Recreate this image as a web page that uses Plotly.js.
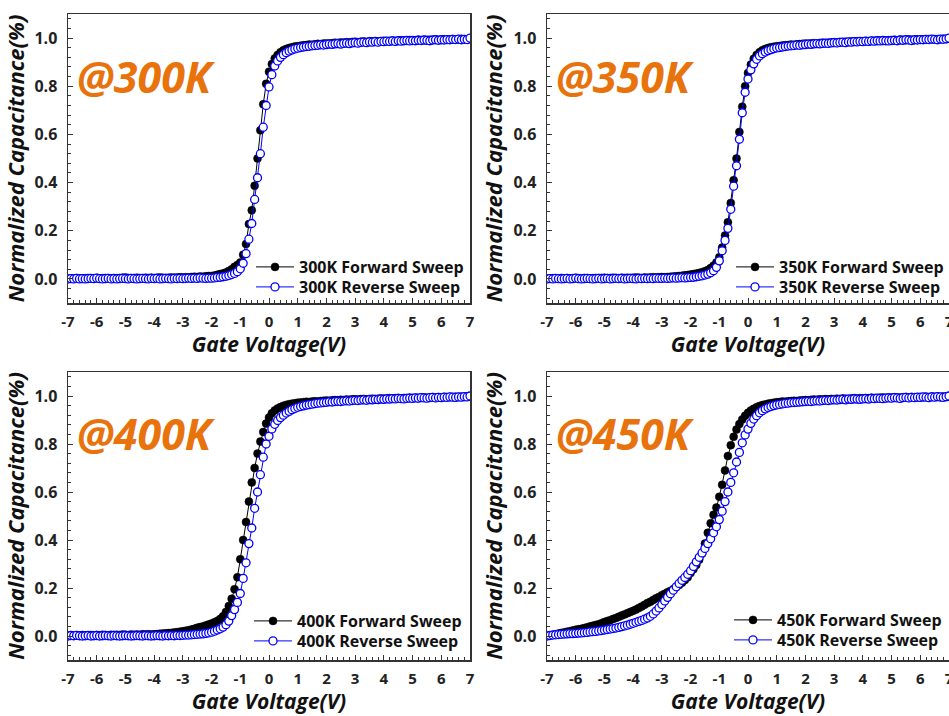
<!DOCTYPE html>
<html><head><meta charset="utf-8">
<script src="https://cdn.plot.ly/plotly-3.0.1.min.js"></script>
<style>html,body{margin:0;padding:0;background:#fff}#chart{width:949px;height:716px}</style>
</head><body><div id="chart"></div>
<script>
// Gate voltage sweep (V)
const gateVoltage = [
-7.0,-6.9,-6.8,-6.7,-6.6,-6.5,-6.4,-6.3,-6.2,-6.1,
-6.0,-5.9,-5.8,-5.7,-5.6,-5.5,-5.4,-5.3,-5.2,-5.1,
-5.0,-4.9,-4.8,-4.7,-4.6,-4.5,-4.4,-4.3,-4.2,-4.1,
-4.0,-3.9,-3.8,-3.7,-3.6,-3.5,-3.4,-3.3,-3.2,-3.1,
-3.0,-2.9,-2.8,-2.7,-2.6,-2.5,-2.4,-2.3,-2.2,-2.1,
-2.0,-1.9,-1.8,-1.7,-1.6,-1.5,-1.4,-1.3,-1.2,-1.1,
-1.0,-0.9,-0.8,-0.7,-0.6,-0.5,-0.4,-0.3,-0.2,-0.1,
0.0,0.1,0.2,0.3,0.4,0.5,0.6,0.7,0.8,0.9,
1.0,1.1,1.2,1.3,1.4,1.5,1.6,1.7,1.8,1.9,
2.0,2.1,2.2,2.3,2.4,2.5,2.6,2.7,2.8,2.9,
3.0,3.1,3.2,3.3,3.4,3.5,3.6,3.7,3.8,3.9,
4.0,4.1,4.2,4.3,4.4,4.5,4.6,4.7,4.8,4.9,
5.0,5.1,5.2,5.3,5.4,5.5,5.6,5.7,5.8,5.9,
6.0,6.1,6.2,6.3,6.4,6.5,6.6,6.7,6.8,6.9,
7.0];

// 300K
const fwd300 = [
0.000,0.002,0.001,0.003,0.002,0.001,0.003,0.004,0.002,0.003,
0.004,0.002,0.003,0.004,0.003,0.002,0.004,0.003,0.004,0.005,
0.006,0.004,0.003,0.004,0.005,0.004,0.003,0.005,0.004,0.005,
0.004,0.005,0.006,0.005,0.004,0.005,0.006,0.005,0.006,0.007,
0.006,0.007,0.006,0.008,0.009,0.008,0.010,0.009,0.011,0.012,
0.012,0.014,0.017,0.020,0.023,0.027,0.033,0.040,0.050,0.058,
0.068,0.100,0.145,0.228,0.285,0.387,0.500,0.617,0.725,0.810,
0.860,0.892,0.915,0.930,0.941,0.949,0.955,0.959,0.962,0.965,
0.966,0.968,0.970,0.971,0.973,0.972,0.974,0.976,0.975,0.977,
0.978,0.977,0.979,0.981,0.980,0.982,0.981,0.983,0.982,0.984,
0.985,0.983,0.985,0.986,0.984,0.987,0.986,0.988,0.986,0.987,
0.989,0.987,0.988,0.990,0.988,0.989,0.991,0.989,0.990,0.992,
0.990,0.991,0.993,0.991,0.992,0.990,0.993,0.992,0.994,0.992,
0.993,0.995,0.993,0.994,0.996,0.994,0.995,0.997,0.995,0.994,
0.996];
const rev300 = [
0.000,0.001,0.000,0.002,0.000,0.001,0.000,0.001,0.002,0.001,
0.003,0.001,0.000,0.001,0.002,0.000,0.001,0.000,0.001,0.002,
0.001,0.000,0.002,0.001,0.000,0.001,0.002,0.001,0.000,0.002,
0.001,0.002,0.000,0.001,0.002,0.001,0.000,0.002,0.001,0.002,
0.001,0.002,0.003,0.002,0.003,0.002,0.004,0.003,0.002,0.003,
0.003,0.004,0.006,0.007,0.009,0.011,0.014,0.018,0.023,0.030,
0.042,0.065,0.105,0.165,0.230,0.330,0.420,0.520,0.630,0.720,
0.797,0.848,0.884,0.905,0.920,0.931,0.939,0.946,0.951,0.955,
0.958,0.961,0.963,0.965,0.966,0.968,0.969,0.970,0.972,0.971,
0.973,0.975,0.974,0.976,0.977,0.975,0.978,0.979,0.977,0.980,
0.981,0.979,0.982,0.983,0.981,0.984,0.983,0.985,0.983,0.986,
0.985,0.987,0.986,0.988,0.986,0.989,0.987,0.989,0.990,0.988,
0.990,0.989,0.991,0.990,0.992,0.991,0.989,0.992,0.993,0.991,
0.993,0.992,0.994,0.993,0.995,0.994,0.996,0.993,0.995,0.994,
1.000];

// 350K
const fwd350 = [
0.000,0.002,0.003,0.001,0.002,0.004,0.002,0.003,0.001,0.003,
0.004,0.003,0.002,0.004,0.003,0.002,0.003,0.004,0.003,0.004,
0.005,0.003,0.004,0.005,0.004,0.003,0.005,0.004,0.005,0.004,
0.005,0.006,0.005,0.004,0.006,0.005,0.006,0.007,0.006,0.007,
0.008,0.007,0.008,0.009,0.010,0.011,0.012,0.013,0.015,0.016,
0.018,0.020,0.022,0.025,0.028,0.032,0.037,0.045,0.055,0.068,
0.090,0.130,0.180,0.235,0.315,0.410,0.500,0.610,0.715,0.800,
0.855,0.890,0.914,0.930,0.941,0.949,0.955,0.959,0.962,0.964,
0.966,0.967,0.969,0.970,0.971,0.973,0.972,0.974,0.975,0.976,
0.977,0.976,0.978,0.979,0.978,0.980,0.981,0.979,0.981,0.982,
0.983,0.982,0.984,0.983,0.985,0.984,0.986,0.985,0.987,0.986,
0.987,0.988,0.986,0.989,0.988,0.990,0.989,0.988,0.990,0.991,
0.990,0.992,0.991,0.993,0.991,0.992,0.994,0.993,0.992,0.994,
0.993,0.995,0.994,0.996,0.995,0.994,0.996,0.995,0.997,0.996,
0.997];
const rev350 = [
0.000,0.001,0.000,0.002,0.001,0.000,0.001,0.002,0.000,0.001,
0.003,0.001,0.000,0.001,0.002,0.001,0.000,0.001,0.002,0.000,
0.001,0.002,0.000,0.001,0.002,0.001,0.002,0.000,0.001,0.002,
0.001,0.000,0.002,0.001,0.002,0.001,0.002,0.001,0.003,0.002,
0.002,0.003,0.002,0.003,0.004,0.003,0.004,0.005,0.004,0.005,
0.006,0.007,0.009,0.011,0.013,0.016,0.020,0.026,0.034,0.048,
0.075,0.117,0.160,0.210,0.289,0.385,0.470,0.580,0.690,0.775,
0.830,0.868,0.893,0.912,0.926,0.935,0.942,0.948,0.952,0.956,
0.959,0.961,0.963,0.965,0.967,0.968,0.969,0.971,0.970,0.972,
0.973,0.975,0.974,0.976,0.977,0.976,0.978,0.979,0.978,0.980,
0.981,0.980,0.982,0.983,0.981,0.984,0.983,0.985,0.984,0.986,
0.985,0.987,0.986,0.988,0.987,0.989,0.988,0.990,0.989,0.988,
0.990,0.991,0.989,0.992,0.991,0.993,0.992,0.990,0.993,0.992,
0.994,0.993,0.995,0.994,0.996,0.995,0.993,0.996,0.995,0.997,
1.000];

// 400K
const fwd400 = [
0.000,0.002,0.001,0.003,0.002,0.004,0.003,0.002,0.004,0.003,
0.004,0.003,0.005,0.004,0.003,0.005,0.004,0.005,0.004,0.006,
0.005,0.004,0.006,0.005,0.006,0.005,0.007,0.006,0.007,0.006,
0.007,0.008,0.009,0.010,0.011,0.012,0.013,0.015,0.016,0.018,
0.020,0.022,0.024,0.027,0.030,0.034,0.037,0.040,0.044,0.048,
0.052,0.057,0.063,0.071,0.082,0.100,0.125,0.155,0.195,0.245,
0.320,0.400,0.475,0.560,0.640,0.700,0.760,0.810,0.850,0.885,
0.910,0.928,0.940,0.948,0.954,0.959,0.963,0.966,0.968,0.970,
0.972,0.973,0.974,0.976,0.975,0.977,0.978,0.977,0.979,0.980,
0.981,0.980,0.982,0.983,0.982,0.984,0.983,0.985,0.984,0.986,
0.986,0.985,0.987,0.988,0.986,0.988,0.989,0.987,0.989,0.990,
0.989,0.990,0.991,0.989,0.991,0.992,0.990,0.992,0.991,0.993,
0.992,0.993,0.991,0.993,0.994,0.992,0.994,0.995,0.993,0.995,
0.994,0.996,0.995,0.996,0.995,0.997,0.996,0.997,0.996,0.998,
0.998];
const rev400 = [
0.000,0.002,0.001,0.003,0.001,0.000,0.001,0.002,0.000,0.001,
0.002,0.000,0.001,0.002,0.001,0.000,0.002,0.001,0.000,0.001,
0.002,0.001,0.000,0.001,0.002,0.001,0.000,0.002,0.001,0.000,
0.001,0.002,0.001,0.000,0.002,0.001,0.002,0.001,0.003,0.002,
0.003,0.004,0.004,0.005,0.006,0.007,0.008,0.009,0.011,0.013,
0.016,0.020,0.025,0.030,0.037,0.047,0.062,0.085,0.110,0.140,
0.177,0.240,0.305,0.385,0.450,0.532,0.600,0.672,0.745,0.800,
0.832,0.863,0.882,0.898,0.910,0.920,0.929,0.936,0.943,0.948,
0.953,0.956,0.959,0.962,0.964,0.966,0.968,0.970,0.971,0.973,
0.974,0.976,0.975,0.977,0.978,0.977,0.979,0.980,0.979,0.981,
0.982,0.981,0.983,0.984,0.982,0.985,0.984,0.986,0.985,0.987,
0.986,0.988,0.987,0.989,0.988,0.990,0.989,0.988,0.990,0.991,
0.990,0.992,0.991,0.993,0.992,0.991,0.993,0.994,0.992,0.994,
0.993,0.995,0.994,0.996,0.995,0.994,0.996,0.995,0.997,0.996,
1.000];

// 450K
const fwd450 = [
0.000,0.002,0.005,0.007,0.010,0.013,0.015,0.018,0.020,0.023,
0.026,0.028,0.030,0.033,0.036,0.040,0.043,0.046,0.049,0.053,
0.058,0.062,0.066,0.071,0.075,0.080,0.085,0.090,0.095,0.100,
0.105,0.110,0.117,0.123,0.130,0.137,0.143,0.150,0.157,0.163,
0.170,0.176,0.182,0.188,0.195,0.203,0.212,0.222,0.233,0.245,
0.262,0.278,0.296,0.318,0.343,0.385,0.430,0.470,0.505,0.535,
0.580,0.630,0.690,0.750,0.795,0.830,0.860,0.883,0.902,0.918,
0.930,0.940,0.947,0.953,0.958,0.962,0.965,0.968,0.970,0.972,
0.974,0.975,0.977,0.976,0.978,0.979,0.980,0.979,0.981,0.982,
0.983,0.982,0.984,0.985,0.984,0.986,0.985,0.987,0.986,0.988,
0.987,0.989,0.988,0.990,0.989,0.988,0.990,0.991,0.989,0.991,
0.990,0.992,0.991,0.993,0.992,0.991,0.993,0.994,0.992,0.994,
0.993,0.995,0.994,0.993,0.995,0.996,0.994,0.996,0.995,0.994,
0.996,0.995,0.997,0.996,0.998,0.996,0.997,0.995,0.998,0.997,
0.999];
const rev450 = [
0.000,0.002,0.004,0.005,0.006,0.007,0.008,0.009,0.010,0.010,
0.011,0.012,0.013,0.014,0.015,0.017,0.018,0.019,0.021,0.023,
0.025,0.027,0.029,0.031,0.033,0.036,0.039,0.042,0.045,0.049,
0.053,0.057,0.061,0.065,0.070,0.075,0.082,0.092,0.104,0.117,
0.131,0.146,0.161,0.176,0.191,0.205,0.219,0.232,0.244,0.257,
0.272,0.290,0.309,0.328,0.346,0.365,0.385,0.405,0.430,0.455,
0.485,0.520,0.560,0.600,0.640,0.680,0.725,0.765,0.805,0.838,
0.862,0.886,0.904,0.918,0.930,0.939,0.946,0.952,0.956,0.960,
0.963,0.965,0.967,0.969,0.970,0.972,0.973,0.974,0.975,0.976,
0.977,0.978,0.977,0.979,0.980,0.979,0.981,0.982,0.981,0.983,
0.984,0.983,0.985,0.986,0.984,0.987,0.986,0.988,0.987,0.986,
0.988,0.989,0.987,0.990,0.989,0.991,0.990,0.989,0.991,0.992,
0.991,0.993,0.992,0.990,0.993,0.994,0.992,0.994,0.993,0.995,
0.994,0.996,0.995,0.993,0.996,0.995,0.997,0.996,0.994,0.997,
1.000];

const temperatures = ['300K', '350K', '400K', '450K'];
const xTickVals = [-7,-6,-5,-4,-3,-2,-1,0,1,2,3,4,5,6,7];
const xTickText = ['-7','-6','-5','-4','-3','-2','-1','0','1','2','3','4','5','6','7'];
const yTickVals = [0, 0.2, 0.4, 0.6, 0.8, 1.0];
const yTickText = ['0.0', '0.2', '0.4', '0.6', '0.8', '1.0'];

const FONT = 'Open Sans, Noto Sans, sans-serif';
const series = [
  {temp: temperatures[0], fwd: fwd300, rev: rev300},
  {temp: temperatures[1], fwd: fwd350, rev: rev350},
  {temp: temperatures[2], fwd: fwd400, rev: rev400},
  {temp: temperatures[3], fwd: fwd450, rev: rev450}
];

const W = 949, H = 716;
const colPx = [[68, 470], [547, 949]];
const rowPx = [[14, 303], [372, 660]];
// legend text start (x px) and row centre (y px) for each panel
const legendPos = [[300, 266], [780, 266], [298, 620], [778, 619]];

const traces = [];
series.forEach((s, i) => {
  const sfx = i === 0 ? '' : String(i + 1);
  const legF = i === 0 ? 'legend' : 'legend' + (2 * i + 1);
  const legR = 'legend' + (2 * i + 2);
  traces.push({
    x: gateVoltage, y: s.fwd, type: 'scatter', mode: 'lines+markers',
    name: s.temp + ' Forward Sweep', xaxis: 'x' + sfx, yaxis: 'y' + sfx, legend: legF,
    line: {color: '#000000', width: 1},
    marker: {symbol: 'circle', size: 8, color: '#000000', line: {color: '#000000', width: 0.5}}
  });
  traces.push({
    x: gateVoltage, y: s.rev, type: 'scatter', mode: 'lines+markers',
    name: s.temp + ' Reverse Sweep', xaxis: 'x' + sfx, yaxis: 'y' + sfx, legend: legR,
    line: {color: '#0000FF', width: 1},
    marker: {symbol: 'circle', size: 8, color: '#FFFFFF', line: {color: '#0000FF', width: 1.3}}
  });
});

const tickFont = {family: FONT, size: 15, color: '#222222', weight: 'bold'};
const xTickFont = {family: FONT, size: 15, color: '#222222', weight: 'bold'};
const titleFont = {family: FONT, size: 21, color: '#111111', weight: 'bold', style: 'italic'};
const yTitleFont = {family: FONT, size: 22, color: '#111111', weight: 'bold', style: 'italic'};

function xAxis(col, row, anchor) {
  return {
    domain: [colPx[col][0] / W, colPx[col][1] / W], anchor: anchor,
    range: [-7, 7], showline: true, mirror: true, linecolor: '#333333', linewidth: 1.5,
    ticks: 'inside', ticklen: 5, tickwidth: 1, tickcolor: '#333333',
    tickmode: 'array', tickvals: xTickVals, ticktext: xTickText, tickfont: xTickFont,
    ticklabelstandoff: 4, ticklabeloverflow: 'allow',
    minor: {dtick: 0.2, tick0: 0, ticks: 'inside', ticklen: 3, tickwidth: 1, tickcolor: '#333333', showgrid: false},
    showgrid: false, zeroline: false,
    title: {text: 'Gate Voltage(V)', font: titleFont, standoff: 6}
  };
}
function yAxis(col, row, anchor) {
  return {
    domain: [(H - rowPx[row][1]) / H, (H - rowPx[row][0]) / H], anchor: anchor,
    range: [-0.1, 1.1], showline: true, mirror: true, linecolor: '#333333', linewidth: 1.5,
    ticks: 'inside', ticklen: 5, tickwidth: 1, tickcolor: '#333333',
    tickmode: 'array', tickvals: yTickVals, ticktext: yTickText, tickfont: {family: FONT, size: 16, color: '#222222', weight: 'bold'},
    ticklabelstandoff: 6,
    minor: {dtick: 0.04, tick0: 0, ticks: 'inside', ticklen: 3, tickwidth: 1, tickcolor: '#333333', showgrid: false},
    showgrid: false, zeroline: false,
    title: {text: 'Normalized Capacitance(%)', font: yTitleFont, standoff: 4}
  };
}
function legendAt(textLeftPx, rowCenterPx) {
  return {
    x: (textLeftPx - 49) / W, y: (H - (rowCenterPx - 16)) / H,
    xanchor: 'left', yanchor: 'top', bgcolor: 'rgba(0,0,0,0)', borderwidth: 0,
    font: {family: FONT, size: 16, color: '#111111', weight: 'bold'}, itemwidth: 38
  };
}
function panelLabel(i, xref, yref) {
  return {
    text: '@' + temperatures[i], xref: xref + ' domain', yref: yref + ' domain',
    x: 0.018, y: 0.785, xanchor: 'left', yanchor: 'middle', showarrow: false,
    font: {family: FONT, size: 43, color: '#E8720C', weight: 'bold', style: 'italic'}
  };
}

const layout = {
  width: W, height: H, margin: {l: 0, r: 0, t: 0, b: 0},
  paper_bgcolor: '#ffffff', plot_bgcolor: '#ffffff', showlegend: true,
  xaxis: xAxis(0, 0, 'y'), yaxis: yAxis(0, 0, 'x'),
  xaxis2: xAxis(1, 0, 'y2'), yaxis2: yAxis(1, 0, 'x2'),
  xaxis3: xAxis(0, 1, 'y3'), yaxis3: yAxis(0, 1, 'x3'),
  xaxis4: xAxis(1, 1, 'y4'), yaxis4: yAxis(1, 1, 'x4'),
  annotations: [panelLabel(0, 'x', 'y'), panelLabel(1, 'x2', 'y2'), panelLabel(2, 'x3', 'y3'), panelLabel(3, 'x4', 'y4')]
};
legendPos.forEach((p, i) => {
  const kF = i === 0 ? 'legend' : 'legend' + (2 * i + 1);
  const kR = 'legend' + (2 * i + 2);
  layout[kF] = legendAt(p[0], p[1]);
  layout[kR] = legendAt(p[0], p[1] + 20);
});

Plotly.newPlot('chart', traces, layout, {displayModeBar: false, staticPlot: true});
</script>
</body></html>
